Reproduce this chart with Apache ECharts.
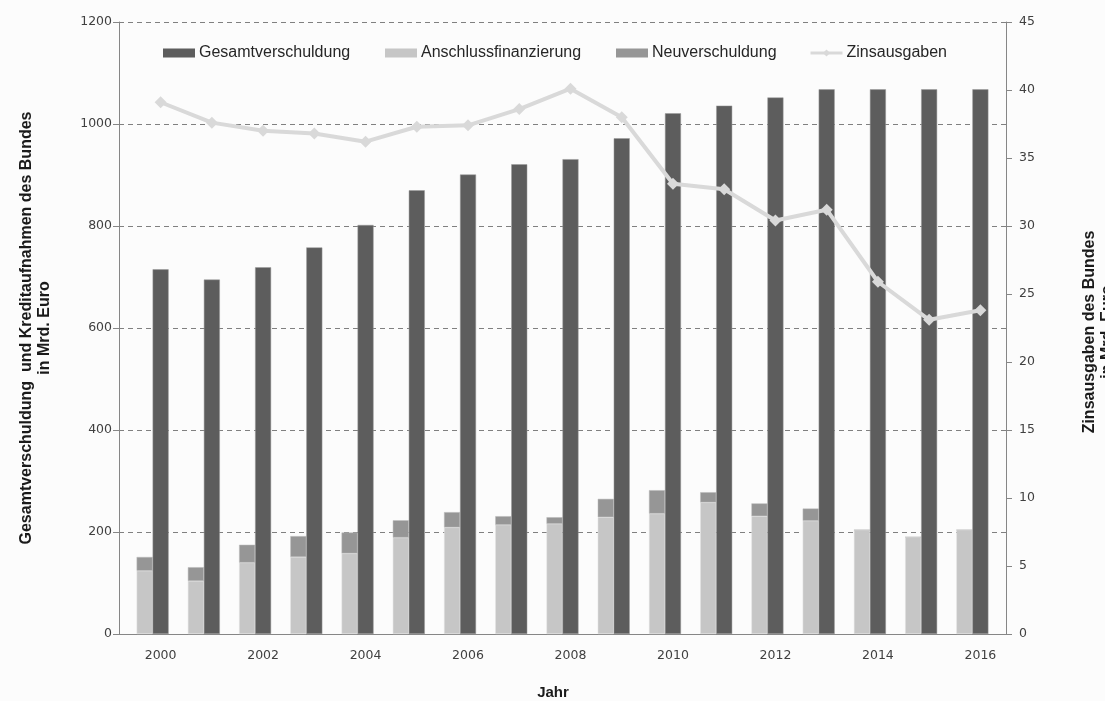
<!DOCTYPE html>
<html>
<head>
<meta charset="utf-8">
<script src="https://cdn.jsdelivr.net/npm/echarts@6/dist/echarts.min.js"></script>
<style>
html,body{margin:0;padding:0;background:#fcfcfc;}
#c{width:1105px;height:701px;}
</style>
</head>
<body>
<div id="c"></div>
<script>
const years = ['2000','2001','2002','2003','2004','2005','2006','2007','2008','2009','2010','2011','2012','2013','2014','2015','2016'];
const gesamtverschuldung = [715, 695, 719, 758, 802, 870, 901, 921, 931, 972, 1021, 1036, 1052, 1068, 1068, 1068, 1068];
const anschlussfinanzierung = [124, 104, 140, 151, 158, 189, 209, 214, 216, 229, 236, 258, 231, 222, 204, 190, 204];
const neuverschuldung = [27, 27, 35, 41, 41, 34, 30, 17, 13, 36, 46, 20, 25, 24, 0, 0, 0];
const zinsausgaben = [39.1, 37.6, 37.0, 36.8, 36.2, 37.3, 37.4, 38.6, 40.1, 38.0, 33.1, 32.7, 30.4, 31.2, 25.9, 23.1, 23.8];
const leftTicks = {min: 0, max: 1200, interval: 200};
const rightTicks = {min: 0, max: 45, interval: 5};

const C_GES = '#5d5d5d', C_ANS = '#c6c6c6', C_NEU = '#969696', C_ZINS = '#d9d9d9';
const FONT = '"Liberation Sans", Arial, sans-serif';
const TICKFONT = '"DejaVu Sans", Verdana, sans-serif';

const chart = echarts.init(document.getElementById('c'), null, {renderer: 'canvas'});

function legend(name, left, icon) {
  const l = {
    data: [name], left: left, top: 45, itemWidth: 32, itemHeight: 9, padding: 0,
    selectedMode: false,
    itemStyle: {borderWidth: 0},
    lineStyle: {width: 3},
    textStyle: {fontFamily: FONT, fontSize: 16, color: '#262626', padding: [0, 0, 0, -1]}
  };
  if (icon) l.icon = icon;
  return l;
}
const plain = v => String(v);

chart.setOption({
  backgroundColor: '#fcfcfc',
  animation: false,
  legend: [
    legend('Gesamtverschuldung', 163, 'rect'),
    legend('Anschlussfinanzierung', 385, 'rect'),
    legend('Neuverschuldung', 616, 'rect'),
    legend('Zinsausgaben', 809)
  ],
  grid: [
    {left: 119, top: 22, width: 887, height: 612, containLabel: false},
    {left: 135, top: 22, width: 871, height: 612, containLabel: false}
  ],
  xAxis: [
    {type: 'category', gridIndex: 0, data: years,
     axisLine: {show: true, lineStyle: {color: '#868686', width: 1}},
     axisTick: {show: false}, axisLabel: {show: false}, splitLine: {show: false}},
    {type: 'category', gridIndex: 1, data: years,
     axisLine: {show: false}, axisTick: {show: false},
     axisLabel: {interval: 1, margin: 15, fontFamily: TICKFONT, fontSize: 12.5, color: '#404040'}}
  ],
  yAxis: [
    {type: 'value', gridIndex: 0, position: 'left', min: leftTicks.min, max: leftTicks.max, interval: leftTicks.interval,
     axisLine: {show: true, lineStyle: {color: '#868686'}},
     axisTick: {show: true, length: 6, lineStyle: {color: '#868686'}},
     axisLabel: {margin: 7, formatter: plain, fontFamily: TICKFONT, fontSize: 12.5, color: '#404040'},
     splitLine: {show: true, lineStyle: {color: '#808080', type: [5, 4], width: 1}}},
    {type: 'value', gridIndex: 1, position: 'left', min: leftTicks.min, max: leftTicks.max, interval: leftTicks.interval,
     show: false, splitLine: {show: false}},
    {type: 'value', gridIndex: 1, position: 'right', min: rightTicks.min, max: rightTicks.max, interval: rightTicks.interval,
     axisLine: {show: true, lineStyle: {color: '#868686'}},
     axisTick: {show: true, length: 6, lineStyle: {color: '#868686'}},
     axisLabel: {margin: 13, formatter: plain, fontFamily: TICKFONT, fontSize: 12.5, color: '#404040'},
     splitLine: {show: false}}
  ],
  series: [
    {name: 'Anschlussfinanzierung', type: 'bar', xAxisIndex: 1, yAxisIndex: 1, stack: 'kredit',
     barWidth: 16, barGap: '0%', data: anschlussfinanzierung,
     itemStyle: {color: C_ANS, borderColor: '#e4e4e4', borderWidth: 0.5}},
    {name: 'Neuverschuldung', type: 'bar', xAxisIndex: 1, yAxisIndex: 1, stack: 'kredit',
     barWidth: 16, barGap: '0%', data: neuverschuldung,
     itemStyle: {color: C_NEU, borderColor: '#bdbdbd', borderWidth: 0.5}},
    {name: 'Gesamtverschuldung', type: 'bar', xAxisIndex: 1, yAxisIndex: 1,
     barWidth: 16, barGap: '0%', data: gesamtverschuldung,
     itemStyle: {color: C_GES, borderColor: '#9a9a9a', borderWidth: 0.5}},
    {name: 'spacer', type: 'bar', xAxisIndex: 1, yAxisIndex: 1,
     barWidth: 16, barGap: '0%', data: [], silent: true},
    {name: 'Zinsausgaben', type: 'line', xAxisIndex: 1, yAxisIndex: 2, data: zinsausgaben,
     z: 5, symbol: 'diamond', symbolSize: 12, showSymbol: true,
     lineStyle: {color: C_ZINS, width: 4}, itemStyle: {color: C_ZINS}}
  ],
  graphic: [
    {type: 'text', x: 36, y: 328, rotation: Math.PI / 2,
     style: {text: 'Gesamtverschuldung  und Kreditaufnahmen des Bundes\nin Mrd. Euro',
             font: 'bold 16px ' + FONT, fill: '#1a1a1a', align: 'center', verticalAlign: 'middle', lineHeight: 18}},
    {type: 'text', x: 1099, y: 332, rotation: Math.PI / 2,
     style: {text: 'Zinsausgaben des Bundes\nin Mrd. Euro',
             font: 'bold 16px ' + FONT, fill: '#1a1a1a', align: 'center', verticalAlign: 'middle', lineHeight: 18}},
    {type: 'text', x: 553, y: 693,
     style: {text: 'Jahr', font: 'bold 15px ' + FONT, fill: '#1a1a1a', align: 'center', verticalAlign: 'middle'}}
  ]
});
</script>
</body>
</html>
